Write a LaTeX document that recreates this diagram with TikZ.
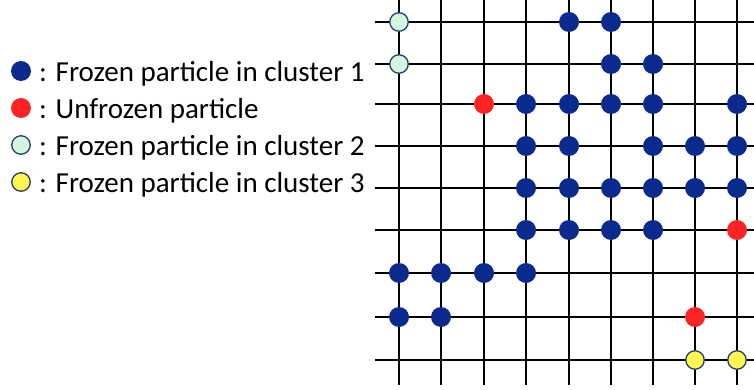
\documentclass[tikz,border=0pt]{standalone}
\usepackage{fontspec}
\setmainfont{Carlito}
\definecolor{frozenblue}{HTML}{0A2A8E}
\definecolor{unfrozen}{HTML}{FF2424}
\definecolor{mint}{HTML}{D4F5DE}
\definecolor{sun}{HTML}{FFF650}
\definecolor{rim}{HTML}{23406E}

\begin{document}
\begin{tikzpicture}[
    x=1pt, y=-1pt,
    gridline/.style={line width=2pt, black},
    particle/.style={circle, inner sep=0pt, minimum size=20pt},
    cl1/.style={particle, fill=frozenblue},
    free/.style={particle, fill=unfrozen},
    cl2/.style={particle, minimum size=18.5pt, fill=mint, draw=rim, line width=1.3pt},
    cl3/.style={particle, minimum size=18.5pt, fill=sun, draw=rim, line width=1.3pt},
    legend/.style={anchor=base west, inner sep=0pt, text=black,
                   font=\fontsize{29}{34}\selectfont}
  ]
    \useasboundingbox (0,0) rectangle (754,390);

    % lattice
    \foreach \x [count=\c from 0] in {399,441,484,526,569,611,653,695,737}
      \coordinate (c\c) at (\x,0);
    \foreach \y [count=\r from 0] in {22,64,104,146,188,230,273,317,360}
      \coordinate (r\r) at (0,\y);
    \foreach \c in {0,...,8}
      \draw[gridline] (c\c) -- (c\c |- 0,385);
    \foreach \r in {0,...,8}
      \draw[gridline] (375,0 |- r\r) -- (754,0 |- r\r);

    % particles (row/column/kind)
    \foreach \r/\c/\kind in {0/0/cl2, 0/4/cl1, 0/5/cl1,
        1/0/cl2, 1/5/cl1, 1/6/cl1,
        2/2/free, 2/3/cl1, 2/4/cl1, 2/5/cl1, 2/6/cl1, 2/8/cl1,
        3/3/cl1, 3/4/cl1, 3/6/cl1, 3/7/cl1, 3/8/cl1,
        4/3/cl1, 4/4/cl1, 4/5/cl1, 4/6/cl1, 4/7/cl1, 4/8/cl1,
        5/3/cl1, 5/4/cl1, 5/5/cl1, 5/6/cl1, 5/8/free,
        6/0/cl1, 6/1/cl1, 6/2/cl1, 6/3/cl1,
        7/0/cl1, 7/1/cl1, 7/7/free,
        8/7/cl3, 8/8/cl3}
      \node[\kind] (p\r\c) at (c\c |- r\r) {};

    % legend
    \node[cl1] (key1) at (21,71) {};
    \node[free] (key2) at (21,108) {};
    \node[cl2] (key3) at (21,145) {};
    \node[cl3] (key4) at (21,182) {};
    \node[legend] (txt1) at (39,82) {: Frozen particle in cluster 1};
    \node[legend] (txt2) at (39,119) {: Unfrozen particle};
    \node[legend] (txt3) at (39,156) {: Frozen particle in cluster 2};
    \node[legend] (txt4) at (39,193) {: Frozen particle in cluster 3};
\end{tikzpicture}
\end{document}
